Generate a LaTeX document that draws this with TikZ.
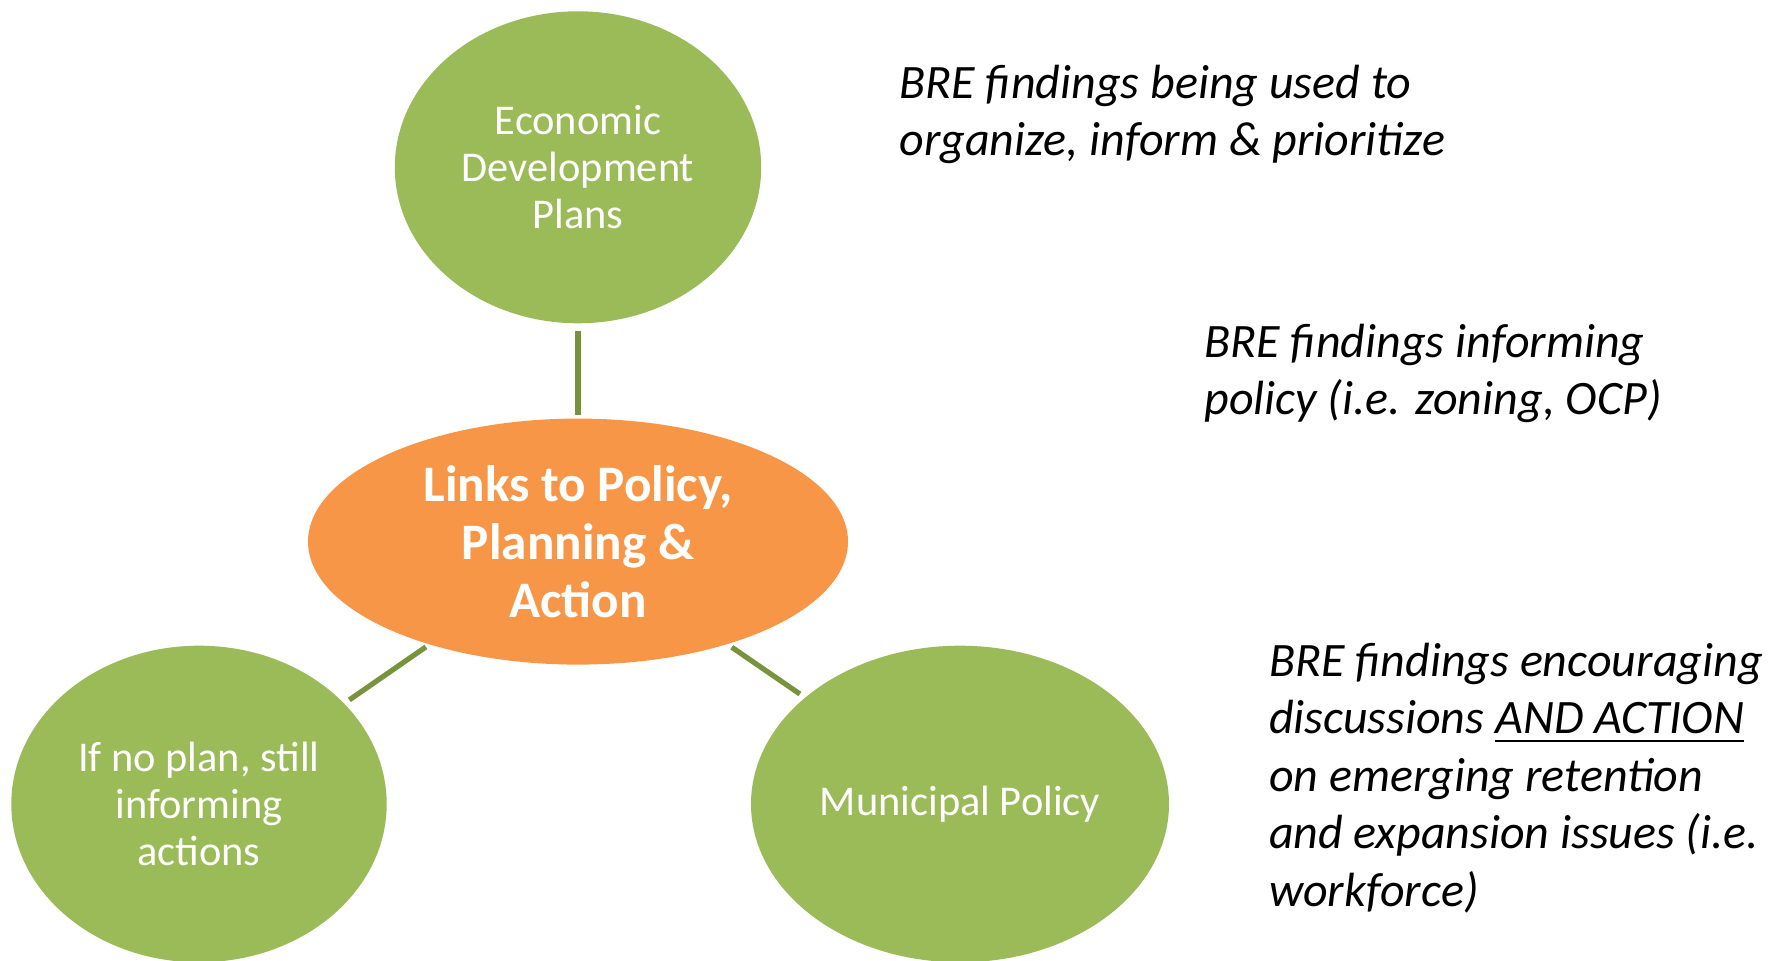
\documentclass[tikz,border=0pt]{standalone}
\usepackage{fontspec}
\setmainfont{Carlito}
\usetikzlibrary{shapes.geometric}
\definecolor{leaf}{HTML}{9BBB59}
\definecolor{amber}{HTML}{F79646}
\definecolor{stem}{HTML}{77933C}
\newcommand\thickul[1]{\setbox0\hbox{#1}\rlap{\rule[-4.2pt]{\wd0}{1.1pt}}\box0}
\begin{document}
\begin{tikzpicture}[x=0.5pt,y=-0.5pt,
 bubble/.style={ellipse, fill=leaf, draw=none, inner sep=0pt, text=white, align=center, font=\fontsize{21.2}{23.5}\selectfont},
 hub/.style={ellipse, fill=amber, draw=none, inner sep=0pt, text=white, align=center, font=\bfseries\fontsize{25.6}{29}\selectfont},
 link/.style={draw=stem, line width=2.6pt},
 note/.style={anchor=west, align=left, inner sep=0pt, font=\itshape\fontsize{24}{28.8}\selectfont}]
\useasboundingbox (0,0) rectangle (1773,961);
\node[bubble, minimum width=183.2pt, minimum height=156pt] (edp) at (578,167.3) {Economic\\Development\\Plans};
\node[hub, minimum width=270pt, minimum height=123pt] (hub) at (578,541.6) {Links to Policy,\\Planning \&\\Action};
\node[bubble, minimum width=187.7pt, minimum height=158.3pt] (noplan) at (199,804) {If no plan, still\\informing\\actions};
\node[bubble, minimum width=209pt, minimum height=158.3pt] (muni) at (960,804) {Municipal Policy};
\draw[link, shorten <=3.5pt, shorten >=1.5pt] (edp) -- (hub);
\draw[link, shorten <=2pt, shorten >=3pt] (hub) -- (noplan);
\draw[link, shorten <=2.5pt, shorten >=3pt] (hub) -- (muni);
\node[note] (n1) at (899,114.5) {BRE findings being used to\\organize, inform \& prioritize};
\node[note] (n2) at (1204,373.5) {BRE findings informing\\policy (i.e. zoning, OCP)};
\node[note] (n3) at (1268.6,778) {BRE findings encouraging\\discussions \thickul{AND ACTION}\\on emerging retention\\and expansion issues (i.e.\\workforce)};
\end{tikzpicture}
\end{document}
